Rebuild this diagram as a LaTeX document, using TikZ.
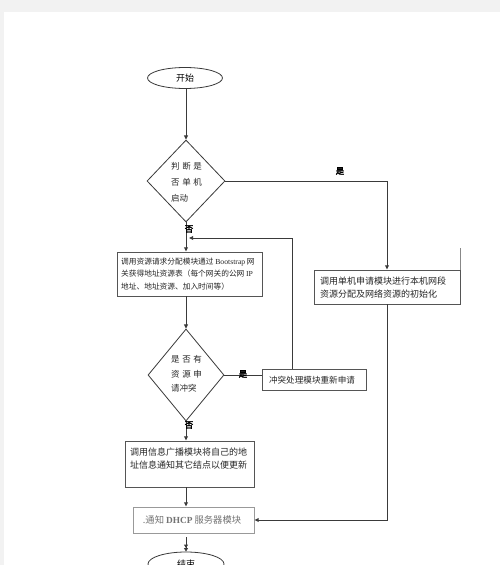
\documentclass[tikz,border=0pt]{standalone}
\usepackage{fontspec}
\setmainfont{Liberation Serif}
\newfontfamily\cjk{Noto Sans CJK SC}
\newfontfamily\cjkb[FakeBold=3]{Noto Sans CJK SC}
\usetikzlibrary{shapes.geometric,arrows.meta}
\definecolor{bgg}{HTML}{F2F2F2}
\definecolor{ln}{HTML}{3A3A3A}
\definecolor{bx}{HTML}{555555}
\begin{document}
\begin{tikzpicture}[x=1pt,y=-1pt,
  box/.style={draw=bx,line width=0.9pt,inner sep=0pt,rectangle},
  conn/.style={draw=ln,line width=1pt},
  arr/.style={conn,-{Triangle[length=4.2pt,width=3.8pt]}},
  dbl/.style={conn,-{Triangle[length=3.5pt,width=3.8pt]Triangle[length=3.5pt,width=3.8pt]}},
  lab/.style={font=\cjkb\fontsize{8.5}{8.5}\selectfont,inner sep=0pt},
  txt/.style={inner sep=0pt,align=left,text=black!85}]
\fill[bgg] (0,0) rectangle (500,565);
\fill[white] (4,12) rectangle (500,565);
\useasboundingbox (0,0) rectangle (500,565);

% start
\node[ellipse,draw=ln,line width=0.8pt,minimum width=75pt,minimum height=21pt,inner sep=0pt,
      font=\cjk\fontsize{9}{9}\selectfont] (start) at (185,78) {开始};

% decision 1
\node[diamond,draw=ln,line width=0.8pt,minimum width=78pt,minimum height=82pt,inner sep=0pt] (d1) at (186,181) {};
\node[txt,anchor=west,font=\cjk\fontsize{8.5}{16}\selectfont] (d1t) at (171,182)
  {判\hspace{2.6pt}断\hspace{2.6pt}是\\否\hspace{2.6pt}单\hspace{2.6pt}机\\启动};

% box 1
\node[box,minimum width=145pt,minimum height=44pt] (b1) at (189.5,274) {};
\node[txt,anchor=west,font=\cjk\fontsize{7.7}{12.6}\selectfont] (b1t) at (121,274)
  {调用资源请求分配模块通过 {\rmfamily Bootstrap} 网\\关获得地址资源表（每个网关的公网 {\rmfamily IP}\\地址、地址资源、加入时间等）};

% decision 2
\node[diamond,draw=ln,line width=0.8pt,minimum width=76pt,minimum height=92pt,inner sep=0pt] (d2) at (186,375) {};
\node[txt,anchor=west,font=\cjk\fontsize{8.5}{14.5}\selectfont] (d2t) at (171,374)
  {是\hspace{2.6pt}否\hspace{2.6pt}有\\资\hspace{2.6pt}源\hspace{2.6pt}申\\请冲突};

% conflict box
\node[box,minimum width=104pt,minimum height=21pt] (conf) at (314,379.5) {};
\node[txt,font=\cjk\fontsize{8.6}{8.6}\selectfont] (conft) at (312,380) {冲突处理模块重新申请};

% right box
\node[box,minimum width=146pt,minimum height=34pt] (rb) at (387,287) {};
\node[txt,anchor=west,font=\cjk\fontsize{9}{13}\selectfont] (rbt) at (320,287.5)
  {调用单机申请模块进行本机网段\\资源分配及网络资源的初始化};
\draw[bx!70,line width=0.8pt] (rb.north east) -- ++(0,-22);

% box 3
\node[box,minimum width=129pt,minimum height=46pt] (b3) at (189.5,464) {};
\node[txt,anchor=west,font=\cjk\fontsize{9}{13}\selectfont] (b3t) at (130,458.5)
  {调用信息广播模块将自己的地\\址信息通知其它结点以便更新};

% box 4
\node[box,draw=bx!60,minimum width=121pt,minimum height=26pt] (b4) at (193.5,520) {};
\node[txt,text=black!55,font=\cjk\fontsize{9.3}{9.3}\selectfont] (b4t) at (192,520)
  {.通知 {\rmfamily\bfseries DHCP} 服务器模块};

% end
\node[ellipse,draw=ln,line width=0.8pt,minimum width=76pt,minimum height=24pt,inner sep=0pt,
      font=\cjk\fontsize{9}{9}\selectfont] (end) at (186,564) {结束};

% connectors
\coordinate (fbx) at (292,238);
\coordinate (fbj) at (189,238);
\draw[arr] (start.south -| d1.north) -- (d1.north);
\draw[arr] (d1.south) -- (d1.south |- b1.north);
\draw[arr] (d1.east) -- (d1.east -| rb.north) -- (rb.north);
\draw[arr] (conf.north -| fbx) -- (fbx) -- (fbj);
\draw[arr] (b1.south -| d2.north) -- (d2.north);
\draw[conn] (d2.east) -- (d2.east -| conf.west);
\draw[arr] (d2.south) -- (d2.south |- b3.north);
\draw[arr] (b3.south -| d2.south) -- (b4.north -| d2.south);
\draw[arr] (rb.south) |- (b4.east);
\draw[dbl,shorten <=4pt] (b4.south -| end.north) -- (end.north);

% labels
\node[lab] (y1) at (340,171) {是};
\node[lab] (n1) at (189,229) {否};
\node[lab] (y2) at (243,374) {是};
\node[lab] (n2) at (189,425) {否};
\end{tikzpicture}
\end{document}
